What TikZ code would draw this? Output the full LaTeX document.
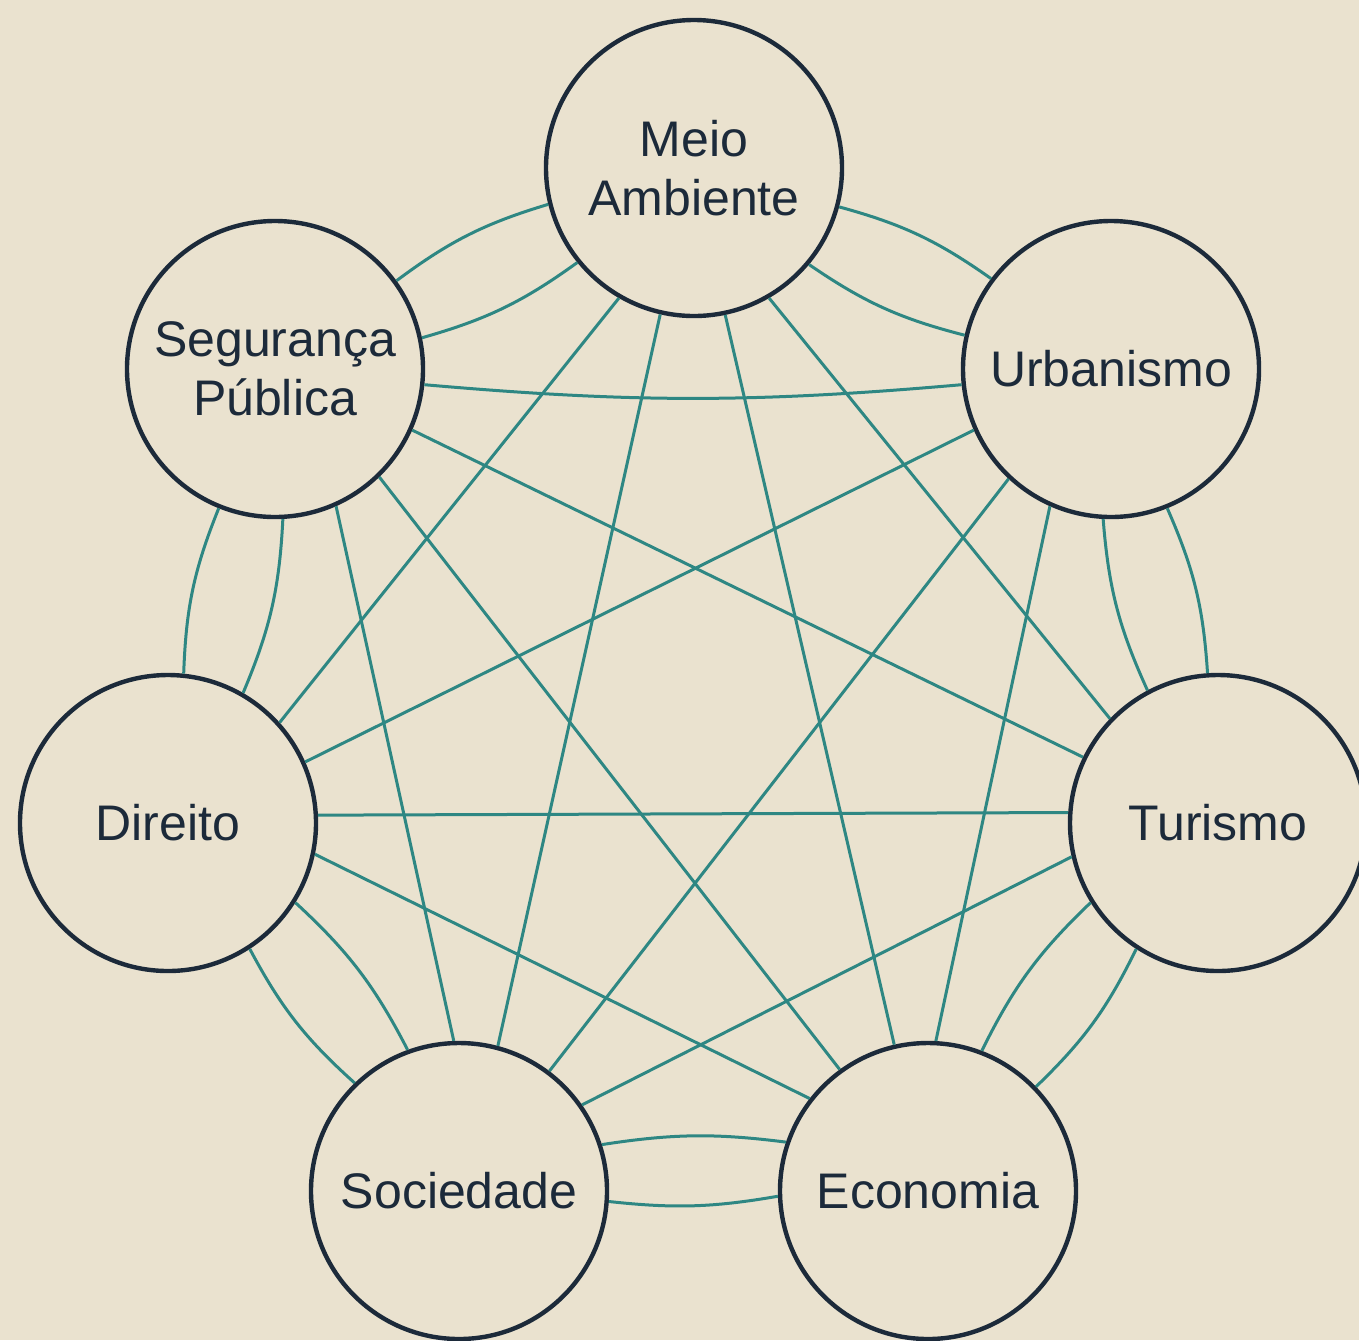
\documentclass[tikz,border=0pt]{standalone}
\usepackage{fontspec}
\setmainfont{Liberation Sans}
\usepackage{xcolor}
\usetikzlibrary{positioning}
\definecolor{paper}{HTML}{EAE2CF}
\definecolor{linkteal}{HTML}{2E8783}
\definecolor{inkblue}{HTML}{1C2A3A}

\begin{document}
\begin{tikzpicture}[x=0.5pt, y=0.5pt]
 % We define the styles for the topic circles and the links
 \tikzset{
topic/.style = {circle, draw=inkblue, line width=2.2pt, fill=paper, minimum size=148pt, inner sep=0pt, align=center, text=inkblue, font=\fontsize{25}{29.5}\selectfont},
link/.style = {draw=linkteal, line width=1.5pt},
}

 % Paper
 \fill [paper] (0,0) rectangle (1359,-1340);
 \useasboundingbox (0,0) rectangle (1359,-1340);

 % Topic circles
 \node [topic] (meio) at (694,-168) {Meio\\Ambiente};
 \node [topic] (urb) at (1111,-369) {Urbanismo};
 \node [topic] (tur) at (1218,-823) {Turismo};
 \node [topic] (eco) at (928,-1191) {Economia};
 \node [topic] (soc) at (459,-1191) {Sociedade};
 \node [topic] (dir) at (168,-823) {Direito};
 \node [topic] (seg) at (275,-369) {Segurança\\Pública};

 % Neighbours: two bowed links each
 \draw [link] (meio.194.8) to[bend right=10] (seg.36.1);
 \draw [link] (meio.219.9) to[bend left=10] (seg.12.2);
 \draw [link] (seg.248.1) to[bend right=10] (dir.84.7);
 \draw [link] (seg.273) to[bend left=10] (dir.60.6);
 \draw [link] (dir.303.5) to[bend right=10] (soc.134.5);
 \draw [link] (dir.328.2) to[bend left=10] (soc.110.2);
 \draw [link] (soc.356.5) to[bend right=8] (eco.182.7);
 \draw [link] (soc.18.6) to[bend left=8] (eco.161.4);
 \draw [link] (eco.44.7) to[bend right=10] (tur.237.9);
 \draw [link] (eco.69.1) to[bend left=10] (tur.212.6);
 \draw [link] (tur.94.6) to[bend right=10] (urb.292.7);
 \draw [link] (tur.118.8) to[bend left=10] (urb.267.7);
 \draw [link] (urb.143.1) to[bend right=10] (meio.345.2);
 \draw [link] (urb.167.1) to[bend left=10] (meio.320.1);

 % Straight links across
 \draw [link] (meio.240.2) -- (dir.42.9);
 \draw [link] (meio.257) -- (soc.75.4);
 \draw [link] (meio.282.7) -- (eco.103.5);
 \draw [link] (meio.300.6) -- (tur.136.8);
 \draw [link] (seg.-6.5) to[bend right=5] (urb.186.9);
 \draw [link] (urb.204.9) -- (dir.24.7);
 \draw [link] (urb.227.7) -- (soc.53.4);
 \draw [link] (urb.246.5) -- (eco.87.3);
 \draw [link] (tur.154.4) -- (seg.-24.1);
 \draw [link] (tur.176.9) -- (dir.3.1);
 \draw [link] (tur.193.3) -- (soc.35.7);
 \draw [link] (eco.126.2) -- (seg.-46.6);
 \draw [link] (eco.142.4) -- (dir.-12.9);
 \draw [link] (soc.92.7) -- (seg.-66.7);

\end{tikzpicture}
\end{document}
